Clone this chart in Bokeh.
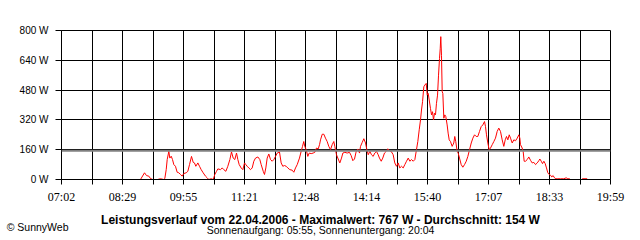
import numpy as np
from bokeh.plotting import figure
from bokeh.layouts import column
from bokeh.models import Range1d, FixedTicker, CustomJSTickFormatter, Span
from bokeh.core.properties import value
from bokeh.embed import file_html
from bokeh.resources import INLINE

# time of day in minutes (07:02 = 422) and power in W
times = [533.8, 539.5, 542.3, 545.6, 548.0, 551.2, 558.0, 562.1, 566.8, 568.2, 570.2, 571.6, 573.9, 575.3,
         577.3, 579.1, 581.0, 583.3, 585.7, 588.0, 590.4, 592.8, 595.1, 598.5, 600.8, 603.2, 606.0, 608.4,
         610.2, 612.1, 615.0, 617.3, 619.7, 622.5, 625.8, 628.2, 630.5, 633.8, 636.7, 639.0, 641.4, 643.3,
         647.0, 649.4, 651.7, 654.6, 657.4, 660.3, 662.6, 665.0, 667.3, 669.7, 671.6, 673.5, 676.3, 678.7,
         681.0, 682.9, 684.8, 687.1, 689.5, 691.9, 694.2, 696.6, 699.9, 702.7, 704.6, 707.5, 709.3, 711.2,
         713.1, 715.4, 717.8, 720.2, 722.5, 724.9, 727.3, 730.5, 732.9, 735.2, 737.6, 740.0, 742.3, 745.1,
         748.5, 750.8, 753.2, 755.6, 758.8, 761.2, 763.1, 764.9, 766.3, 768.3, 770.6, 772.6, 775.4, 778.2,
         780.5, 782.9, 785.3, 787.2, 788.6,
         791.0, 793.3, 795.6, 798.0, 800.3, 802.7, 805.1, 807.4, 808.8, 811.2, 813.6, 815.9, 818.3, 820.2,
         823.0, 826.3, 829.6, 832.0, 834.3, 836.7, 839.1, 841.4, 843.8, 845.2, 847.6, 849.9, 852.3, 853.7,
         856.1, 858.4, 860.7, 863.1, 865.4, 867.8, 870.2, 872.0, 874.5, 876.7, 879.1, 881.5, 883.8, 886.2,
         888.6, 891.4, 893.7, 896.1, 898.5, 900.8, 903.2, 905.6, 907.9, 910.3, 912.7, 915.0, 917.4, 919.8,
         922.1, 924.4, 926.3, 928.3, 930.1, 931.5, 933.0,
         934.8, 936.2, 938.2, 939.6, 941.0, 942.4, 944.2, 945.7, 947.1, 948.5, 949.9, 951.3, 952.7, 954.2,
         955.6, 957.0, 958.0, 958.8, 959.8, 960.8, 961.7, 963.1, 964.5, 965.9, 967.8, 969.2, 970.7, 972.5,
         974.9, 977.2, 978.6, 980.0, 982.0, 983.4, 985.3, 987.7, 990.0, 992.4, 994.8, 997.1, 999.5, 1001.9,
         1004.2, 1006.6, 1008.9, 1011.2, 1013.6, 1016.0, 1018.3, 1020.7, 1022.1, 1023.5, 1025.4, 1027.3,
         1029.2, 1031.6, 1033.9, 1036.2, 1038.6, 1040.9, 1043.3, 1045.7, 1048.0, 1050.0, 1051.8, 1053.7,
         1055.7, 1057.5, 1059.9, 1062.2, 1064.6, 1067.0, 1069.3, 1070.7,
         1071.6, 1074.0, 1075.4, 1076.8, 1078.7, 1081.1, 1083.4, 1085.8, 1088.2, 1090.5, 1092.9, 1095.3,
         1097.6, 1099.0, 1101.0, 1102.8, 1104.7, 1106.6, 1108.4, 1110.3, 1112.2, 1114.1, 1115.9, 1117.8,
         1119.7, 1121.6, 1123.5, 1128.2, 1132.9, 1136.3, 1138.6, 1141.4, 1150.0, 1158.9, 1166.0]

watts = [0, 36, 21, 18, 5, 0, 0, 4, 0, 5, 53, 107, 151, 115,
         125, 107, 80, 71, 39, 36, 27, 18, 32, 36, 44, 80, 124, 92,
         89, 71, 89, 71, 53, 36, 18, 9, 0, 4, 0, 27, 44, 57,
         53, 62, 53, 44, 71, 107, 148, 115, 107, 142, 107, 80, 62, 53,
         89, 80, 71, 62, 53, 62, 98, 115, 121, 107, 80, 44, 27, 62,
         115, 137, 107, 98, 107, 124, 142, 148, 89, 71, 75, 71, 62, 53,
         50, 39, 62, 80, 115, 151, 178, 204, 178, 160, 124, 142, 139, 142,
         146, 169, 164, 187, 213,
         243, 243, 222, 204, 178, 160, 187, 204, 178, 133, 110, 89, 115, 142,
         146, 142, 146, 128, 101, 110, 151, 164, 142, 178, 199, 219, 196, 169,
         133, 151, 133, 124, 142, 151, 133, 115, 98, 115, 142, 151, 165, 155,
         151, 133, 89, 71, 89, 62, 71, 62, 80, 98, 115, 98, 107, 98,
         107, 160, 204, 267, 320, 373, 418,
         498, 507, 516, 453, 462, 427, 382, 347, 364, 320, 356, 347, 409, 453,
         560, 649, 702, 767, 667, 471, 462, 329, 347, 338, 293, 249, 213, 204,
         178, 196, 231, 204, 151, 142, 115, 80, 66, 80, 98, 124, 160, 196,
         222, 240, 231, 231, 258, 284, 293, 311, 284, 240, 196, 160,
         169, 187, 204, 222, 258, 276, 258, 213, 178, 213, 231, 213,
         240, 222, 196, 213, 208, 222, 240, 222,
         187, 169, 151, 98, 98, 107, 121, 103, 89, 92, 80, 89,
         101, 110, 98, 85, 98, 85, 62, 36, 27, 23, 14, 21,
         9, 4, 4, 4, 4, 9, 4, 4, None, 4, 4]

x_start, x_end = 422, 1199          # 07:02 .. 19:59
x_labels = ["07:02", "08:29", "09:55", "11:21", "12:48", "14:14", "15:40", "17:07", "18:33", "19:59"]
y_ticks = [0, 160, 320, 480, 640, 800]
avg_w = 154
title_text = "Leistungsverlauf vom 22.04.2006 - Maximalwert: 767 W - Durchschnitt: 154 W"
sub_text = "Sonnenaufgang: 05:55, Sonnenuntergang: 20:04"
credit_text = "\u00a9 SunnyWeb"

n_steps = 2 * (len(x_labels) - 1)
step = (x_end - x_start) / n_steps
x_grid = [x_start + step * k for k in range(n_steps + 1)]

LEFT, RIGHT, TOP = 61, 30, 30
TOP_H = 206
p = figure(width=640, height=TOP_H, output_backend="svg", toolbar_location=None,
           x_range=Range1d(x_start, x_end), y_range=Range1d(0, 800),
           min_border_left=LEFT, min_border_right=RIGHT, min_border_top=TOP,
           min_border_bottom=TOP_H - 180,
           background_fill_color="white", border_fill_color="white")
p.outline_line_color = "black"
p.outline_line_alpha = 1.0

xt = FixedTicker(ticks=x_grid, minor_ticks=[])
yt = FixedTicker(ticks=y_ticks, minor_ticks=[])
p.xaxis.ticker = xt
p.yaxis.ticker = yt
p.xgrid.ticker = xt
p.ygrid.ticker = yt
for g in (p.xgrid, p.ygrid):
    g.grid_line_color = "black"
    g.grid_line_alpha = 1.0
    g.grid_line_width = 1

p.xaxis.formatter = CustomJSTickFormatter(args=dict(labels=x_labels, x0=x_start, step=step), code="""
const k = Math.round((tick - x0) / step);
return (k % 2 == 0) ? labels[k / 2] : "";
""")
p.yaxis.formatter = CustomJSTickFormatter(code="return tick.toFixed(0) + ' W';")

for ax in (p.xaxis, p.yaxis):
    ax.axis_line_color = "black"
    ax.major_tick_line_color = "black"
    ax.major_tick_in = 0
    ax.minor_tick_in = 0
    ax.minor_tick_out = 0
    ax.major_label_text_color = "black"
p.xaxis.major_tick_out = 5
p.yaxis.major_tick_out = 6
p.xaxis.major_label_text_font = "Liberation Sans Narrow"
p.xaxis.major_label_text_font_size = "12px"
p.xaxis.major_label_standoff = 5
p.yaxis.major_label_text_font = "Liberation Sans"
p.yaxis.major_label_text_font_size = "10px"
p.yaxis.major_label_standoff = 7

p.add_layout(Span(location=avg_w, dimension="width", line_color="#808080", line_width=2))

w = np.array([np.nan if v is None else v for v in watts], dtype=float)
p.line(np.array(times), w, line_color="#ff0000", line_width=1)

# caption strip below the chart; its frame is aligned with the chart frame,
# so x data units = canvas pixels, y data units = pixels from the strip bottom
CAP_H = 240 - TOP_H
cap = figure(width=640, height=CAP_H, output_backend="svg", toolbar_location=None,
             x_range=Range1d(LEFT, 640 - RIGHT), y_range=Range1d(0, CAP_H),
             x_axis_type=None, min_border=0, min_border_left=LEFT, min_border_right=RIGHT,
             background_fill_color="white", border_fill_color="white")
cap.outline_line_color = None
cap.xgrid.visible = False
cap.ygrid.visible = False

def cy(py):
    return CAP_H - (py - TOP_H)

cap.text(x=[320], y=[cy(219)], text=[title_text], text_align="center",
         text_baseline="alphabetic", text_font=value("Liberation Sans"), text_font_style="bold",
         text_font_size="12px", text_color="black")
cap.text(x=[320], y=[cy(229)], text=[sub_text], text_align="center",
         text_baseline="alphabetic", text_font=value("Liberation Sans"),
         text_font_size="10.5px", text_color="black")

# credit rendered as the strip's left-axis label (outside the frame)
cap.yaxis.ticker = FixedTicker(ticks=[cy(226.5)], minor_ticks=[])
cap.yaxis.formatter = CustomJSTickFormatter(args=dict(t=credit_text), code="return t;")
cap.yaxis.axis_line_color = None
cap.yaxis.major_tick_line_color = None
cap.yaxis.major_tick_out = 0
cap.yaxis.major_tick_in = 0
cap.yaxis.minor_tick_out = 0
cap.yaxis.minor_tick_in = 0
cap.yaxis.major_label_standoff = -7
cap.yaxis.major_label_text_font = "Liberation Sans"
cap.yaxis.major_label_text_font_size = "10.5px"
cap.yaxis.major_label_text_color = "black"

layout = column(p, cap, spacing=0)
open("out.html", "w").write(file_html(layout, INLINE))
